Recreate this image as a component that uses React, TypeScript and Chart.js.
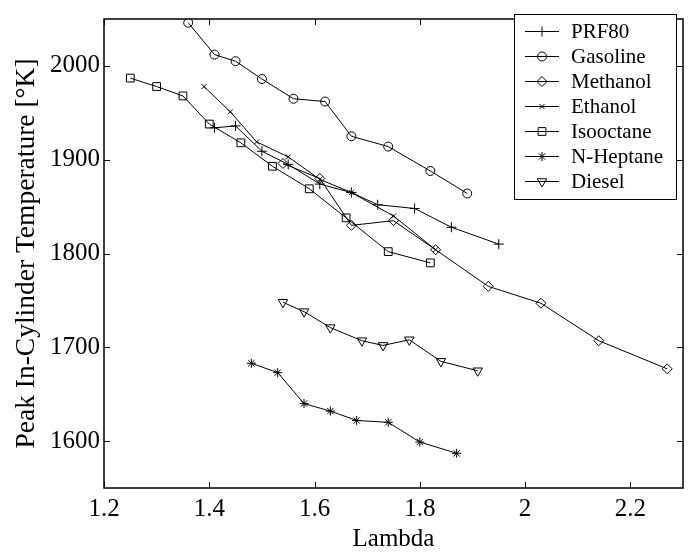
import React, { useEffect, useRef } from 'react';
import { Chart, registerables } from 'chart.js';
import { drawPoint } from 'chart.js/helpers';

Chart.register(...registerables);

const FONT = '"Liberation Serif", "Times New Roman", serif';

const xTicks = [1.2, 1.4, 1.6, 1.8, 2.0, 2.2];
const yTicks = [1600, 1700, 1800, 1900, 2000];

const seriesNames = ['PRF80', 'Gasoline', 'Methanol', 'Ethanol', 'Isooctane', 'N-Heptane', 'Diesel'];

const prf80Lambda = [1.41, 1.45, 1.50, 1.55, 1.61, 1.67, 1.72, 1.79, 1.86, 1.95];
const prf80Temp = [1934, 1936, 1909, 1895, 1874, 1865, 1852, 1848, 1828, 1810];

const gasolineLambda = [1.36, 1.41, 1.45, 1.50, 1.56, 1.62, 1.67, 1.74, 1.82, 1.89];
const gasolineTemp = [2046, 2012, 2005, 1986, 1965, 1962, 1925, 1914, 1888, 1864];

const methanolLambda = [1.54, 1.61, 1.67, 1.75, 1.83, 1.93, 2.03, 2.14, 2.27];
const methanolTemp = [1896, 1880, 1830, 1835, 1804, 1765, 1747, 1707, 1677];

const ethanolLambda = [1.39, 1.44, 1.49, 1.55, 1.61, 1.67, 1.75, 1.83];
const ethanolTemp = [1978, 1951, 1919, 1903, 1879, 1865, 1840, 1804];

const isooctaneLambda = [1.25, 1.30, 1.35, 1.40, 1.46, 1.52, 1.59, 1.66, 1.74, 1.82];
const isooctaneTemp = [1987, 1978, 1968, 1938, 1918, 1893, 1869, 1838, 1802, 1790];

const heptaneLambda = [1.48, 1.53, 1.58, 1.63, 1.68, 1.74, 1.80, 1.87];
const heptaneTemp = [1683, 1673, 1640, 1632, 1622, 1620, 1599, 1587];

const dieselLambda = [1.54, 1.58, 1.63, 1.69, 1.73, 1.78, 1.84, 1.91];
const dieselTemp = [1748, 1738, 1721, 1707, 1702, 1708, 1685, 1675];

const seriesX = [prf80Lambda, gasolineLambda, methanolLambda, ethanolLambda, isooctaneLambda, heptaneLambda, dieselLambda];
const seriesY = [prf80Temp, gasolineTemp, methanolTemp, ethanolTemp, isooctaneTemp, heptaneTemp, dieselTemp];
const markerStyles = ['cross', 'circle', 'rectRot', 'crossRot', 'rect', 'star', 'triangle'];
const markerRadius = [5, 4.5, 5, 3.5, 5.5, 4.5, 5.5];
const markerRotation = [0, 0, 0, 0, 0, 0, 180];

const framePlugin = {
  id: 'frame',
  afterDatasetsDraw(chart: any) {
    const { ctx, chartArea: a, scales } = chart;
    ctx.save();
    ctx.strokeStyle = '#000';
    ctx.lineWidth = 1.5;
    ctx.strokeRect(a.left, a.top, a.right - a.left, a.bottom - a.top);
    ctx.lineWidth = 1;
    const L = 6;
    ctx.beginPath();
    scales.x.ticks.forEach((t: any) => {
      const px = Math.round(scales.x.getPixelForValue(t.value)) + 0.5;
      ctx.moveTo(px, a.bottom);
      ctx.lineTo(px, a.bottom - L);
      ctx.moveTo(px, a.top);
      ctx.lineTo(px, a.top + L);
    });
    scales.y.ticks.forEach((t: any) => {
      const py = Math.round(scales.y.getPixelForValue(t.value)) + 0.5;
      ctx.moveTo(a.left, py);
      ctx.lineTo(a.left + L, py);
      ctx.moveTo(a.right, py);
      ctx.lineTo(a.right - L, py);
    });
    ctx.stroke();
    ctx.restore();
  },
};

const legendPlugin = {
  id: 'boxLegend',
  afterDraw(chart: any) {
    const { ctx } = chart;
    const bx = 514.5, by = 14.5, bw = 162, bh = 185;
    ctx.save();
    ctx.fillStyle = '#fff';
    ctx.fillRect(bx, by, bw, bh);
    ctx.strokeStyle = '#000';
    ctx.lineWidth = 1;
    ctx.strokeRect(bx, by, bw, bh);
    ctx.font = `21px ${FONT}`;
    ctx.textBaseline = 'middle';
    ctx.textAlign = 'left';
    chart.data.datasets.forEach((ds: any, i: number) => {
      const y = 31.5 + 25 * i;
      ctx.strokeStyle = '#000';
      ctx.lineWidth = 1;
      ctx.beginPath();
      ctx.moveTo(525, y);
      ctx.lineTo(559, y);
      ctx.stroke();
      ctx.fillStyle = 'rgba(0,0,0,0)';
      drawPoint(ctx, {
        pointStyle: ds.pointStyle,
        rotation: ds.pointRotation,
        radius: ds.pointRadius,
        borderWidth: 1,
      } as any, 542, y);
      ctx.fillStyle = '#000';
      ctx.fillText(ds.label, 571, y + 1);
    });
    ctx.restore();
  },
};

export default function App() {
  const ref = useRef<HTMLCanvasElement | null>(null);

  useEffect(() => {
    if (!ref.current) return;
    Chart.defaults.font.family = FONT;
    const datasets = seriesNames.map((name, i) => ({
      label: name,
      data: seriesX[i].map((x, j) => ({ x, y: seriesY[i][j] })),
      borderColor: '#000',
      borderWidth: 1,
      backgroundColor: 'rgba(0,0,0,0)',
      pointStyle: markerStyles[i],
      pointRadius: markerRadius[i],
      pointRotation: markerRotation[i],
      pointBorderColor: '#000',
      pointBackgroundColor: 'rgba(0,0,0,0)',
      pointBorderWidth: 1,
      pointHoverRadius: markerRadius[i],
      tension: 0,
      fill: false,
    }));
    const chart = new Chart(ref.current, {
      type: 'line',
      data: { datasets } as any,
      options: {
        animation: false,
        responsive: true,
        maintainAspectRatio: false,
        events: [],
        layout: { padding: { left: 0, right: 11, top: 6, bottom: 0 } },
        plugins: { legend: { display: false }, tooltip: { enabled: false } },
        scales: {
          x: {
            type: 'linear',
            min: 1.2,
            max: 2.3,
            afterBuildTicks: (s: any) => {
              s.ticks = xTicks.map((v) => ({ value: v }));
            },
            afterFit: (s: any) => {
              s.height = 64;
            },
            grid: { display: false, drawTicks: false },
            border: { display: false },
            ticks: {
              font: { size: 25, family: FONT },
              color: '#000',
              padding: 6,
              maxRotation: 0,
              autoSkip: false,
              callback: (v: any) => String(+Number(v).toFixed(1)),
            },
            title: {
              display: true,
              text: 'Lambda',
              color: '#000',
              font: { size: 25, family: FONT, lineHeight: 1 },
              padding: { top: 0, bottom: 0 },
            },
          },
          y: {
            type: 'linear',
            min: 1550,
            max: 2050,
            afterBuildTicks: (s: any) => {
              s.ticks = yTicks.map((v) => ({ value: v }));
            },
            afterFit: (s: any) => {
              s.width = 104;
            },
            grid: { display: false, drawTicks: false },
            border: { display: false },
            ticks: {
              font: { size: 25, family: FONT },
              color: '#000',
              padding: 4,
              autoSkip: false,
              callback: (v: any) => String(v),
            },
            title: {
              display: true,
              text: 'Peak In-Cylinder Temperature [°K]',
              color: '#000',
              font: { size: 27.5, family: FONT, lineHeight: 1 },
              padding: { top: 13, bottom: 0 },
            },
          },
        },
      } as any,
      plugins: [framePlugin, legendPlugin],
    });
    return () => chart.destroy();
  }, []);

  return (
    <div style={{ position: 'fixed', left: 0, top: 0, width: 694, height: 552, background: '#fff' }}>
      <canvas ref={ref} />
    </div>
  );
}
